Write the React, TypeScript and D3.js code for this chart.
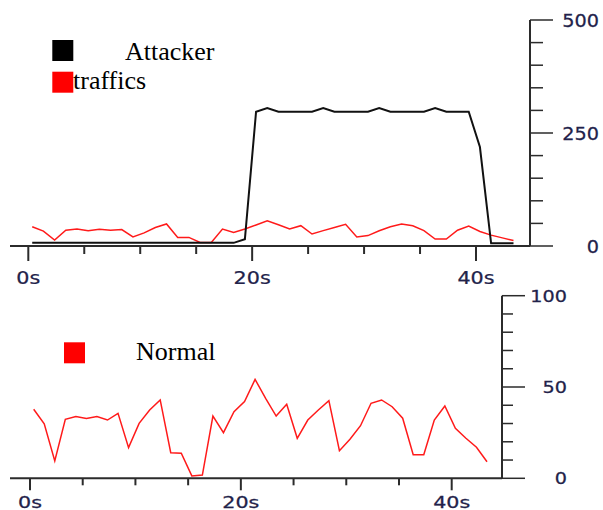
import React, { useEffect } from "react";
import * as d3 from "d3";

// Sample times (s) shared by every series
const seconds = [
  0.35, 1.35, 2.35, 3.35, 4.35, 5.35, 6.35, 7.35, 8.35, 9.35, 10.35,
  11.35, 12.35, 13.35, 14.35, 15.35, 16.35, 17.35, 18.35, 19.35, 20.35,
  21.35, 22.35, 23.35, 24.35, 25.35, 26.35, 27.35, 28.35, 29.35, 30.35,
  31.35, 32.35, 33.35, 34.35, 35.35, 36.35, 37.35, 38.35, 39.35, 40.35,
  41.35, 42.35, 43.35,
];

// Upper panel: attacker volume and background traffic
const attacker = [
  7, 7, 7, 7, 7, 7, 7, 7, 7, 7, 7, 7, 7, 7, 7, 7, 7, 7, 7, 15, 297, 305, 297,
  297, 297, 297, 305, 297, 297, 297, 297, 305, 297, 297, 297, 297, 305, 297,
  297, 297, 219, 6, 6, 6,
];
const traffics = [
  42.7, 33, 13, 35, 37.6, 34, 37, 35, 36.5, 20, 29, 41, 48.7, 19, 19, 8, 8,
  37.6, 30, 37.6, 46.5, 56, 47, 37.6, 45, 26.5, 34, 41, 48, 20, 23, 33.6, 42.7,
  48.7, 44.7, 34, 15.5, 15.5, 35, 44, 32, 24, 18, 12,
];

// Lower panel: normal traffic
const normal = [
  37.8, 29.8, 9.5, 32.3, 33.8, 32.7, 33.8, 31.9, 35.6, 16.8, 30.1, 37.4, 42.9,
  14.0, 13.7, 1.3, 1.8, 34.1, 25.0, 36.5, 42.0, 54.2, 43.8, 34.1, 40.5, 21.9,
  31.9, 37.4, 42.5, 15.1, 21.4, 28.8, 41.1, 42.9, 39.2, 32.9, 12.9, 12.9, 31.9,
  39.6, 27.4, 21.9, 17.0, 9.1,
];

const xMajor = [0, 20, 40];
const xMinor = [5, 10, 15, 25, 30, 35];
const topMajor = [0, 250, 500];
const topMinor = [50, 100, 150, 200, 300, 350, 400, 450];
const botMajor = [0, 50, 100];
const botMinor = [10, 20, 30, 40, 60, 70, 80, 90];

const AXIS = "#2b2b2b";
const LABEL = "#22224a";
const RED = "#ff1a1a";
const SANS = "'DejaVu Sans', Verdana, sans-serif";
const SERIF = "'Liberation Serif', 'Times New Roman', serif";

export default function App() {
  useEffect(() => {
    document.body.style.margin = "0";
  }, []);

  // Upper panel scales
  const xTop = d3.scaleLinear().domain([0, 40]).range([28.3, 476]);
  const yTop = d3.scaleLinear().domain([0, 500]).range([246, 20]);
  // Lower panel scales
  const xBot = d3.scaleLinear().domain([0, 40]).range([30, 451.7]);
  const yBot = d3.scaleLinear().domain([0, 100]).range([478.3, 295.7]);

  const lineTop = (vals: number[]) =>
    d3
      .line<number>()
      .x((_, i) => xTop(seconds[i]))
      .y((d) => yTop(d))(vals) || "";
  const lineBot = (vals: number[]) =>
    d3
      .line<number>()
      .x((_, i) => xBot(seconds[i]))
      .y((d) => yBot(d))(vals) || "";

  const topAxisX = 530;
  const botAxisX = 502;

  return (
    <svg
      width={603}
      height={510}
      style={{ position: "absolute", left: 0, top: 0, display: "block", background: "#fff" }}
    >
      {/* ---------- upper panel ---------- */}
      <g>
        {/* legend */}
        <rect x={52.3} y={40} width={21} height={21} fill="#000" />
        <text x={125} y={60} fontFamily={SERIF} fontSize={26} fill="#000">
          Attacker
        </text>
        <rect x={52.3} y={71.7} width={21} height={21} fill="#ff0000" />
        <text x={73} y={89.3} fontFamily={SERIF} fontSize={26} fill="#000">
          traffics
        </text>

        {/* series */}
        <path d={lineTop(traffics)} fill="none" stroke={RED} strokeWidth={1.5} />
        <path d={lineTop(attacker)} fill="none" stroke="#111" strokeWidth={2} />

        {/* x axis */}
        <line x1={10} x2={topAxisX} y1={yTop(0)} y2={yTop(0)} stroke={AXIS} strokeWidth={2} />
        {xMinor.map((t) => (
          <line key={`tm${t}`} x1={xTop(t)} x2={xTop(t)} y1={yTop(0)} y2={yTop(0) + 8} stroke={AXIS} strokeWidth={2} />
        ))}
        {xMajor.map((t) => (
          <g key={`tM${t}`}>
            <line x1={xTop(t)} x2={xTop(t)} y1={yTop(0)} y2={yTop(0) + 15} stroke={AXIS} strokeWidth={2} />
            <text
              transform={`translate(${xTop(t)},283.5) scale(1.15,1)`}
              textAnchor="middle"
              fontFamily={SANS}
              fontSize={18}
              fill={LABEL}
              stroke={LABEL}
              strokeWidth={0.25}
            >
              {`${t}s`}
            </text>
          </g>
        ))}

        {/* right y axis */}
        <line x1={topAxisX} x2={topAxisX} y1={yTop(500)} y2={yTop(0)} stroke={AXIS} strokeWidth={2} />
        {topMinor.map((v) => (
          <line key={`ym${v}`} x1={topAxisX} x2={topAxisX + 13} y1={yTop(v)} y2={yTop(v)} stroke={AXIS} strokeWidth={1.5} />
        ))}
        {topMajor.map((v) => (
          <g key={`yM${v}`}>
            <line x1={topAxisX} x2={topAxisX + 23} y1={yTop(v)} y2={yTop(v)} stroke={AXIS} strokeWidth={1.5} />
            <text
              transform={`translate(599,${yTop(v) + 6.5}) scale(1.07,1)`}
              textAnchor="end"
              fontFamily={SANS}
              fontSize={18}
              fill={LABEL}
              stroke={LABEL}
              strokeWidth={0.25}
            >
              {v}
            </text>
          </g>
        ))}
      </g>

      {/* ---------- lower panel ---------- */}
      <g>
        <rect x={64} y={342.3} width={21} height={21} fill="#ff0000" />
        <text x={136} y={360} fontFamily={SERIF} fontSize={26} fill="#000">
          Normal
        </text>

        <path d={lineBot(normal)} fill="none" stroke={RED} strokeWidth={1.5} />

        {/* x axis */}
        <line x1={10} x2={botAxisX} y1={yBot(0)} y2={yBot(0)} stroke={AXIS} strokeWidth={2} />
        {xMinor.map((t) => (
          <line key={`bm${t}`} x1={xBot(t)} x2={xBot(t)} y1={yBot(0)} y2={yBot(0) + 7} stroke={AXIS} strokeWidth={2} />
        ))}
        {xMajor.map((t) => (
          <g key={`bM${t}`}>
            <line x1={xBot(t)} x2={xBot(t)} y1={yBot(0)} y2={yBot(0) + 12} stroke={AXIS} strokeWidth={2} />
            <text
              transform={`translate(${xBot(t)},507.5) scale(1.38,1)`}
              textAnchor="middle"
              fontFamily={SANS}
              fontSize={15}
              fill={LABEL}
              stroke={LABEL}
              strokeWidth={0.25}
            >
              {`${t}s`}
            </text>
          </g>
        ))}

        {/* right y axis */}
        <line x1={botAxisX} x2={botAxisX} y1={yBot(100)} y2={yBot(0)} stroke={AXIS} strokeWidth={2} />
        {botMinor.map((v) => (
          <line key={`bym${v}`} x1={botAxisX} x2={botAxisX + 11} y1={yBot(v)} y2={yBot(v)} stroke={AXIS} strokeWidth={1.5} />
        ))}
        {botMajor.map((v) => (
          <g key={`byM${v}`}>
            <line x1={botAxisX} x2={botAxisX + 23} y1={yBot(v)} y2={yBot(v)} stroke={AXIS} strokeWidth={1.5} />
            <text
              transform={`translate(567,${yBot(v) + 6}) scale(1.28,1)`}
              textAnchor="end"
              fontFamily={SANS}
              fontSize={15}
              fill={LABEL}
              stroke={LABEL}
              strokeWidth={0.25}
            >
              {v}
            </text>
          </g>
        ))}
      </g>
    </svg>
  );
}
